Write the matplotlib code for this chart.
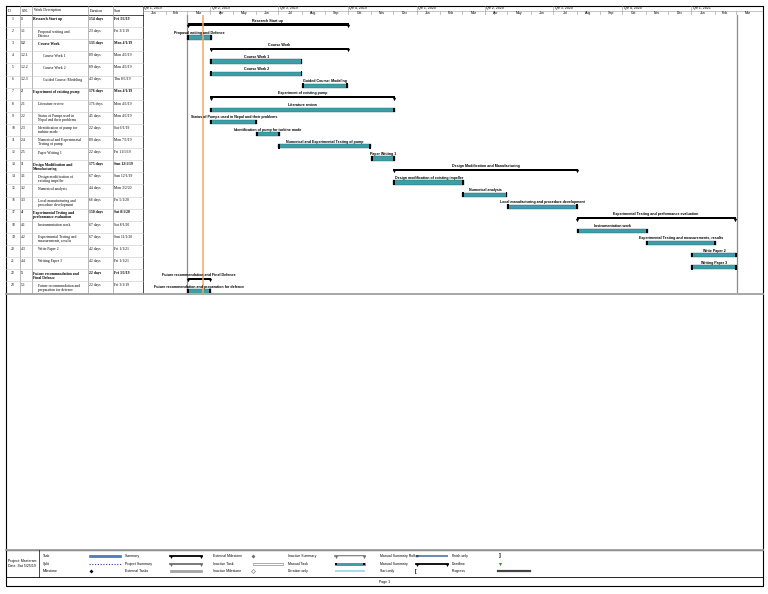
import numpy as np
import matplotlib.pyplot as plt
import matplotlib.dates as mdates
import datetime as dt

# task table
wbs = ["1", "1.1", "1.2", "1.2.1", "1.2.2", "1.2.3", "2", "2.1", "2.2", "2.3", "2.4", "2.5",
       "3", "3.1", "3.2", "3.3", "4", "4.1", "4.2", "4.3", "4.4", "5", "5.1"]
names = ["Research Start up", "Proposal writing and\nDefence", "Course Work", "Course Work 1",
         "Course Work 2", "Guided Course: Modeling", "Experiment of existing pump",
         "Literature review", "Status of Pumps used in\nNepal and their problems",
         "Identification of pump for\nturbine mode", "Numerical and Experimental\nTesting of pump",
         "Paper Writing 1", "Design Modification and\nManufacturing",
         "Design modification of\nexisting impeller", "Numerical analysis",
         "Local manufacturing and\nprocedure development",
         "Experimental Testing and\nperformance evaluation", "Instrumentation work",
         "Experimental Testing and\nmeasurements, results", "Write Paper 2", "Writing Paper 3",
         "Future recommendation and\nFinal Defence",
         "Future recommendation and\npreparation for defence"]
durations = [154, 23, 133, 89, 89, 43, 176, 176, 45, 22, 89, 22,
             175, 67, 44, 66, 150, 67, 67, 42, 42, 22, 22]
starts = ["2019-03-01", "2019-03-01", "2019-04-01", "2019-04-01", "2019-04-01", "2019-08-01",
          "2019-04-01", "2019-04-01", "2019-04-01", "2019-06-01", "2019-07-01", "2019-11-01",
          "2019-12-01", "2019-12-01", "2020-03-02", "2020-05-01", "2020-08-01", "2020-08-01",
          "2020-11-01", "2021-01-01", "2021-01-01", "2019-03-01", "2019-03-01"]
status_date = "2019-03-22"
project_info = "Project: Mastersm\nDate: Sat 5/25/19"

legend_cols = [["Task", "Split", "Milestone"],
               ["Summary", "Project Summary", "External Tasks"],
               ["External Milestone", "Inactive Task", "Inactive Milestone"],
               ["Inactive Summary", "Manual Task", "Duration-only"],
               ["Manual Summary Rollup", "Manual Summary", "Start-only"],
               ["Finish-only", "Deadline", "Progress"]]

TEAL = "#3c9fa7"
SERIF = "Liberation Serif"
SANS = "Liberation Sans"

n = len(wbs)
start_d = np.array(starts, dtype="datetime64[D]")
end_d = np.busday_offset(start_d, durations, roll="forward")
is_sum = [any(w.startswith(x + ".") for w in wbs) for x in wbs]
levels = [x.count(".") for x in wbs]
s_num = mdates.date2num(start_d.astype(dt.datetime))
e_num = mdates.date2num(end_d.astype(dt.datetime))

W, H = 768, 594
fig = plt.figure(figsize=(W / 100, H / 100), dpi=100)

# page frame (pixel coords)
pg = fig.add_axes([0, 0, 1, 1])
pg.set_xlim(0, W)
pg.set_ylim(H, 0)
pg.axis("off")

L, R, TOP, HB = 6, 763, 6, 15
rh = 12.1
TB = HB + n * rh
GX = 142.5
cols = [L, 20, 32, 88, 112.5, GX]

pg.plot([L, R, R, L, L], [TOP, TOP, 550, 550, TOP], color="black", lw=0.8)
pg.plot([L, GX], [HB, HB], color="black", lw=0.5)
for c in cols[1:]:
    pg.plot([c, c], [TOP, TB], color="black" if c == GX else "#9a9a9a", lw=0.5)
for i in range(1, n):
    pg.plot([L, GX], [HB + i * rh] * 2, color="#c8c8c8", lw=0.4)
pg.plot([L, R], [TB + 1, TB + 1], color="#a0a0a0", lw=1.3)

hdr = ["ID", "S.N.", "Work Description", "Duration", "Start"]
for c, t in zip(cols[:-1], hdr):
    pg.text(c + 1.5, (TOP + HB) / 2, t, fontsize=2.7, family=SERIF, va="center")

for i in range(n):
    top = HB + i * rh
    fw = "bold" if is_sum[i] else "normal"
    pg.text(13, top + 0.32 * rh, str(i + 1), fontsize=2.7, family=SERIF, ha="center", va="center")
    pg.text(21, top + 0.32 * rh, wbs[i], fontsize=2.7, family=SERIF, va="center", weight=fw)
    pg.text(33 + [0, 5, 10][levels[i]], top + 0.2 * rh, names[i], fontsize=2.7, family=SERIF,
            va="top", weight=fw, linespacing=1.0)
    pg.text(89, top + 0.32 * rh, f"{durations[i]} days", fontsize=2.7, family=SERIF,
            va="center", weight=fw)
    d = start_d[i].astype(dt.datetime)
    pg.text(113.5, top + 0.32 * rh, f"{d:%a} {d.month}/{d.day}/{d:%y}", fontsize=2.7,
            family=SERIF, va="center", weight=fw)

# timescale
x0 = mdates.date2num(dt.datetime(2019, 1, 1))
x1 = x0 + (R - GX) / 0.751
hx = fig.add_axes([GX / W, 1 - HB / H, (R - GX) / W, (HB - TOP) / H])
hx.set_xlim(x0, x1)
hx.set_ylim(2, 0)
hx.axis("off")
hx.plot([x0, x1], [1, 1], color="#9a9a9a", lw=0.4)
months = [dt.datetime(2019 + k // 12, k % 12 + 1, 1) for k in range(28)]
mnum = mdates.date2num(months)
for k in range(27):
    hx.plot([mnum[k]] * 2, [1, 2], color="#9a9a9a", lw=0.4)
    hx.text((mnum[k] + mnum[k + 1]) / 2, 1.5, f"{months[k]:%b}", fontsize=2.5, family=SANS,
            ha="center", va="center", clip_on=False)
    if k % 3 == 0:
        hx.plot([mnum[k]] * 2, [0, 1], color="#9a9a9a", lw=0.4)
        hx.text(mnum[k] + 2, 0.5, f"Qtr {k % 12 // 3 + 1}, {months[k].year}", fontsize=2.5,
                family=SANS, va="center", clip_on=False)

# gantt bars
gx = fig.add_axes([GX / W, 1 - TB / H, (R - GX) / W, (TB - HB) / H])
gx.set_xlim(x0, x1)
gx.set_ylim(n, 0)
gx.axis("off")

gx.axvline(s_num.min(), color="#8c8c8c", lw=0.9)
gx.axvline(e_num.max(), color="#8c8c8c", lw=0.9)
gx.axvline(mdates.date2num(dt.datetime.fromisoformat(status_date)), color="#f2a766", lw=1.1)

cap = 2.6
for i in range(n):
    yb = i + 0.85
    mid = (s_num[i] + e_num[i]) / 2
    if is_sum[i]:
        gx.barh(yb - 0.05, e_num[i] - s_num[i], left=s_num[i], height=0.2, color="black")
        gx.scatter([s_num[i] + 1, e_num[i] - 1], [yb + 0.08] * 2, marker="v", s=6,
                   color="black", zorder=3, linewidths=0)
    else:
        gx.barh(yb, e_num[i] - s_num[i], left=s_num[i], height=0.36, color=TEAL,
                edgecolor="#1d6c72", lw=0.3)
        for xe in (s_num[i], e_num[i] - cap):
            gx.barh(yb, cap, left=xe, height=0.38, color="black", zorder=3)
    gx.text(mid, i + 0.47, names[i].replace("\n", " "), fontsize=2.6, family=SANS,
            weight="bold", ha="center", va="center", clip_on=False)

# legend
pg.plot([L, R, R, L, L], [550, 550, 586, 586, 550], color="black", lw=0.8)
pg.plot([L, R], [550, 550], color="#a0a0a0", lw=1.3)
pg.plot([L, R], [577, 577], color="black", lw=0.6)
pg.plot([39, 39], [550, 577], color="black", lw=0.5)
pg.text(8, 563.5, project_info, fontsize=2.5, family=SANS, va="center", linespacing=1.3)
pg.text((L + R) / 2, 582, "Page 1", fontsize=2.5, family=SANS, ha="center", va="center")

lab_x = [43, 125, 213, 288, 380, 452]
rows_y = [556, 564, 571]
for c, labels in enumerate(legend_cols):
    for r, t in enumerate(labels):
        pg.text(lab_x[c], rows_y[r], t, fontsize=2.5, family=SANS, va="center")


def bar(x, y, w, fc, ec="none", h=2.6, lw=0.4):
    pg.add_patch(plt.Rectangle((x, y - h / 2), w, h, facecolor=fc, edgecolor=ec, lw=lw))


def summ(x, y, w, color, hollow=False):
    if hollow:
        pg.plot([x, x + w], [y, y], color=color, lw=1.2)
        pg.plot([x, x + w], [y, y], color="white", lw=0.5)
    else:
        pg.plot([x, x + w], [y, y], color=color, lw=1.3)
    pg.scatter([x + 1, x + w - 1], [y + 0.8] * 2, marker="v", s=5, color=color, zorder=3,
               linewidths=0)


bar(89, 556, 32, "#4a7ebb", "#2f5f99")
pg.plot([89, 121], [564, 564], color="#2f3fa0", lw=0.8, ls=(0, (1, 1.5)))
pg.scatter([91], [571], marker="D", s=4, color="black", linewidths=0)
summ(170, 556, 32, "black")
summ(170, 564, 32, "#707070")
bar(170, 571, 32, "#a6a6a6", "#909090")
pg.scatter([253], [556], marker="D", s=4, color="#707070", linewidths=0)
bar(253, 564, 30, "white", "#707070")
pg.scatter([253], [571], marker="D", s=4, facecolor="white", edgecolor="#707070",
           linewidths=0.4)
summ(335, 556, 30, "#707070", hollow=True)
bar(335, 564, 30, TEAL, "#1d6c72")
bar(335, 564, 2, "black", h=2.8)
bar(363, 564, 2, "black", h=2.8)
bar(335, 571, 30, "#aadbe8")
bar(416, 556, 32, "#6f89b0")
summ(416, 564, 32, "black")
pg.text(416, 571, "[", fontsize=3.5, family=SANS, weight="bold", va="center", ha="center")
pg.text(500, 556, "]", fontsize=3.5, family=SANS, weight="bold", va="center", ha="center")
pg.scatter([500], [564], marker="v", s=5, color="#2e8b3a", linewidths=0)
pg.plot([498, 530], [571, 571], color="#444444", lw=1.6)

fig.savefig("out.png", dpi=100)
